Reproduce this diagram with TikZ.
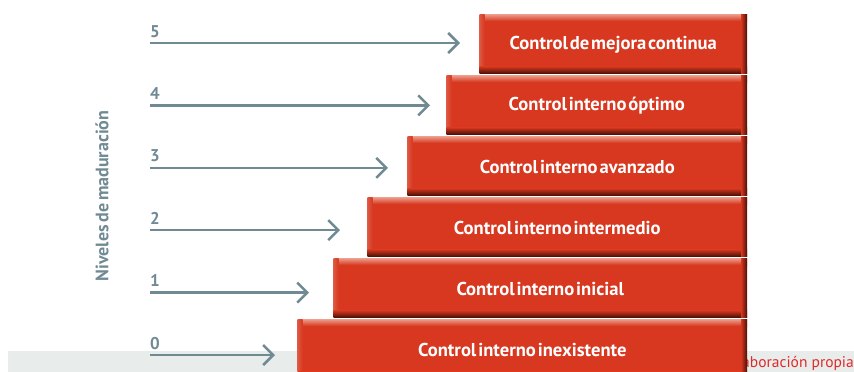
\documentclass[tikz,border=0pt]{standalone}
\usepackage{fontspec}
\setmainfont{PT Sans}[BoldFont={PT Sans Bold}]
\usetikzlibrary{arrows.meta}

\definecolor{boxred}{HTML}{D7381F}
\definecolor{boxlight}{HTML}{EDA090}
\definecolor{boxdark}{HTML}{4A1006}
\definecolor{arrowgray}{HTML}{708A93}
\definecolor{bandgray}{HTML}{E8EDEC}
\definecolor{sourcered}{HTML}{E02A2A}

\newcommand{\boxfont}{\bfseries\fontsize{18.6}{18.6}\selectfont\spaceskip=0.1em\relax}
\newcommand{\axisfont}{\bfseries\fontsize{18}{18}\selectfont\spaceskip=0.15em\relax}

\begin{document}
\begin{tikzpicture}[x=1pt, y=-1pt,
    levelbox/.style={fill=boxred, minimum height=59pt, inner sep=0pt, anchor=north east},
    levelarrow/.style={draw=arrowgray, line width=2.5pt,
        -{Straight Barb[length=10pt, width=20pt]}},
    levelnum/.style={text=arrowgray, font=\bfseries\fontsize{17}{17}\selectfont, inner sep=0pt},
]
    \useasboundingbox (0,0) rectangle (854,372);

    % Gray band and source line
    \fill[bandgray] (8,351) rectangle (854,372);
    \node[anchor=east, text=sourcered, inner sep=0pt, font=\fontsize{15.5}{15.5}\selectfont] (src) at (854,363) {aboración propia};

    % Axis title
    \node[rotate=90, text=arrowgray, font=\axisfont] (axis) at (102,196) {Niveles de maduración};

    % Level boxes
    \foreach \i/\lft/\txt in {5/480/Control de mejora continua, 4/447/Control interno óptimo,
        3/408/Control interno avanzado, 2/368/Control interno intermedio,
        1/334/Control interno inicial, 0/298/Control interno inexistente} {
        \pgfmathsetmacro\top{14+61*(5-\i)}
        \node[levelbox, minimum width={747-\lft}] (b\i) at (747,\top) {};
        % bevel edges
        \shade[top color=boxlight, bottom color=boxred] (b\i.north west) rectangle ([yshift=-7pt]b\i.north east);
        \shade[left color=boxred!70!boxlight, right color=boxred] (b\i.north west) rectangle ([xshift=5pt]b\i.south west);
        \shade[top color=boxred, bottom color=boxdark] ([yshift=7pt]b\i.south west) rectangle (b\i.south east);
        \shade[left color=boxred, right color=boxdark] ([xshift=-6pt]b\i.north east) rectangle (b\i.south east);
        \node[text=white, font=\boxfont] (t\i) at ([yshift=-1pt]b\i.center) {\txt};
    }

    % Arrows with level numbers
    \foreach \i/\xend in {5/460, 4/430, 3/388, 2/340, 1/309, 0/275} {
        \pgfmathsetmacro\yy{43+62.4*(5-\i)}
        \coordinate (s\i) at (150,\yy);
        \coordinate (e\i) at (\xend,\yy);
        \draw[levelarrow] (s\i) -- (e\i);
        \node[levelnum, anchor=base west] (n\i) at ([yshift=6pt]s\i) {\i};
    }
\end{tikzpicture}
\end{document}
